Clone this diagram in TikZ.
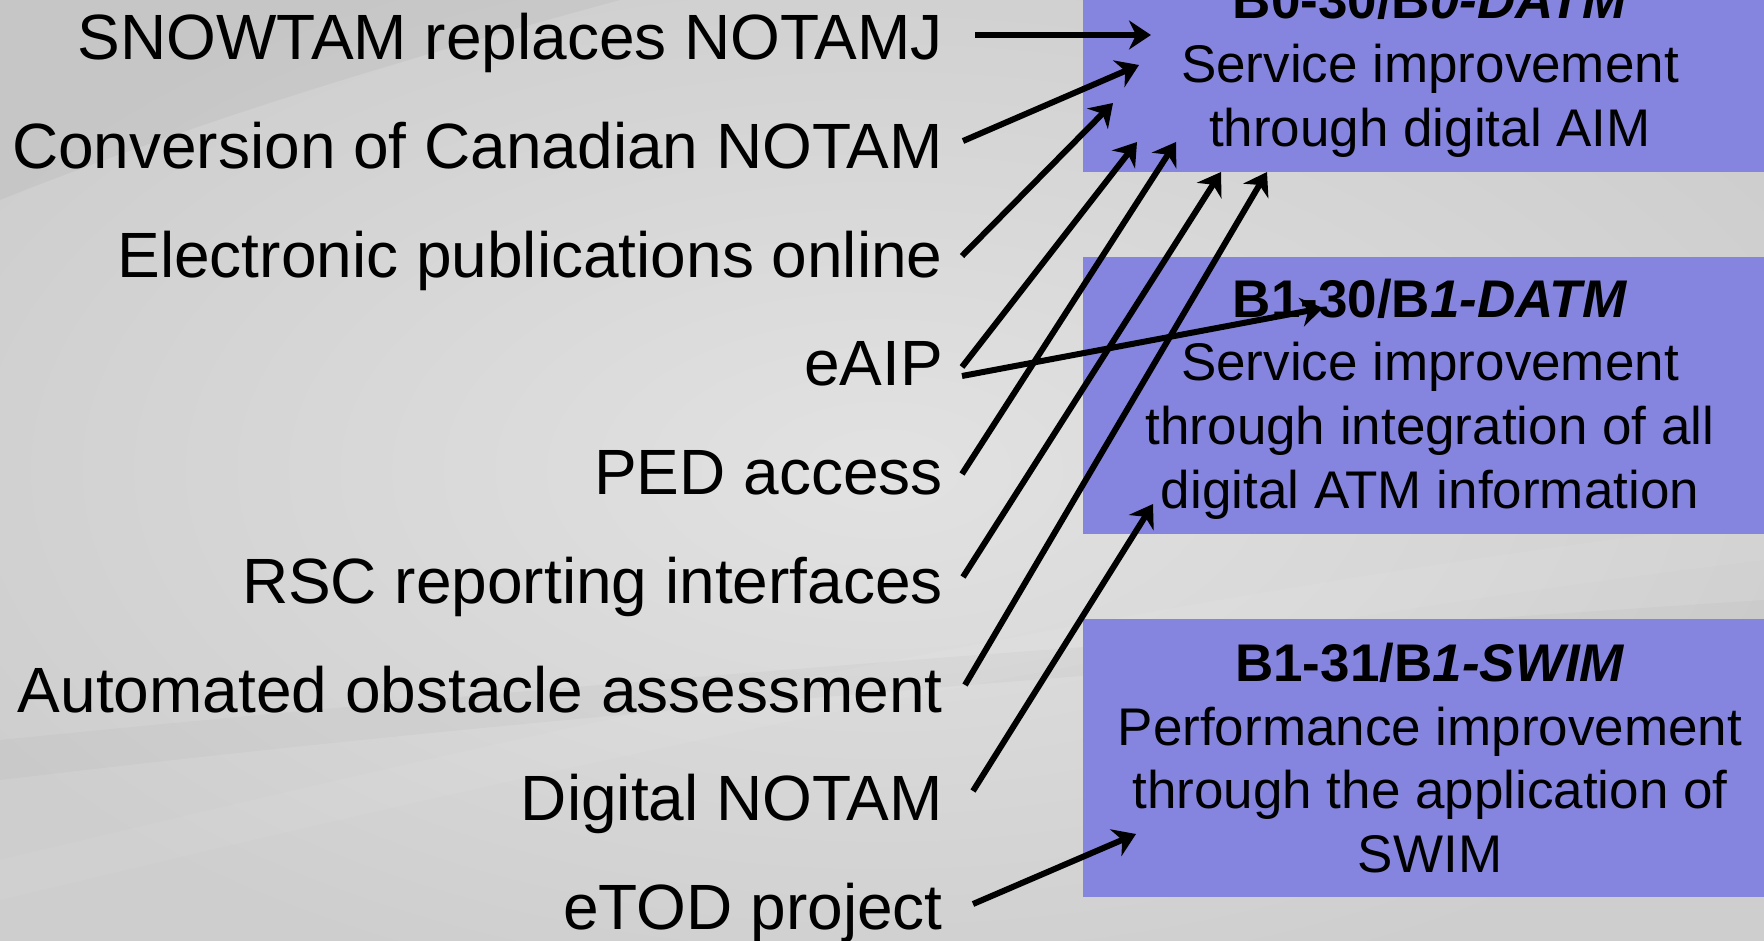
\documentclass[tikz,border=0pt]{standalone}
\usepackage{fontspec}
\setmainfont{Liberation Sans}
\usetikzlibrary{arrows.meta,calc}
\definecolor{boxblue}{RGB}{133,133,224}
\definecolor{bgA}{RGB}{226,226,226}
\definecolor{bgB}{RGB}{206,206,206}
\tikzset{
  lefttext/.style={anchor=base east, inner sep=0pt, font=\fontsize{64}{70}\selectfont},
  boxline/.style={anchor=base, inner sep=0pt, font=\fontsize{53}{60}\selectfont},
  boxtitle/.style={anchor=base, inner sep=0pt, font=\fontsize{53}{60}\selectfont\bfseries},
  goalbox/.style={fill=boxblue, draw=none, anchor=north west, inner sep=0pt, minimum width=700pt},
  arr/.style={line width=6pt, -{Stealth[length=22pt,width=29pt,inset=7pt]}},
}
\begin{document}
\begin{tikzpicture}[x=1pt,y=-1pt]
\useasboundingbox (0,0) rectangle (1764,940);
\clip (0,0) rectangle (1764,940);
% background
\shade[inner color=bgA, outer color=bgB] (-150,-80) rectangle (1914,1020);
\fill[black, opacity=0.035] (0,0) -- (620,0) .. controls (400,60) and (200,120) .. (0,200) -- cycle;
\fill[white, opacity=0.06] (0,860) .. controls (500,740) and (1100,600) .. (1764,520) -- (1764,560) .. controls (1100,640) and (500,780) .. (0,900) -- cycle;
\fill[black, opacity=0.025] (0,740) .. controls (500,690) and (1000,650) .. (1764,600) -- (1764,625) .. controls (1000,680) and (500,720) .. (0,780) -- cycle;

% goal boxes
\node[goalbox, minimum height=172pt] (b1) at (1083,0) {};
\node[goalbox, minimum height=277pt] (b2) at (1083,257) {};
\node[goalbox, minimum height=278pt] (b3) at (1083,619) {};

\node[boxtitle] (b1t) at (1430,18) {B0-30/B\textit{0-DATM}};
\node[boxline]  (b1a) at (1430,82) {Service improvement};
\node[boxline]  (b1b) at (1430,146) {through digital AIM};

\node[boxtitle] (b2t) at (1430,317) {B1-30/B\textit{1-DATM}};
\node[boxline]  (b2a) at (1430,380) {Service improvement};
\node[boxline]  (b2b) at (1430,444) {through integration of all};
\node[boxline]  (b2c) at (1430,508) {digital ATM information};

\node[boxtitle] (b3t) at (1430,681) {B1-31/B\textit{1-SWIM}};
\node[boxline]  (b3a) at (1430,745) {Performance improvement};
\node[boxline]  (b3b) at (1430,808) {through the application of};
\node[boxline]  (b3c) at (1430,872) {SWIM};

% left items
\node[lefttext] (snow) at (943,59)  {SNOWTAM replaces NOTAMJ};
\node[lefttext] (conv) at (943,168) {Conversion of Canadian NOTAM};
\node[lefttext] (epub) at (943,277) {Electronic publications online};
\node[lefttext] (eaip) at (943,385) {eAIP};
\node[lefttext] (ped)  at (943,494) {PED access};
\node[lefttext] (rsc)  at (943,603) {RSC reporting interfaces};
\node[lefttext] (auto) at (943,712) {Automated obstacle assessment};
\node[lefttext] (dnot) at (943,820) {Digital NOTAM};
\node[lefttext] (etod) at (943,929) {eTOD project};

% connector ends
\coordinate (s1) at (975,35);   \coordinate (e1) at (1151,35);
\coordinate (s2) at (963,141);  \coordinate (e2) at (1139,65);
\coordinate (s3) at (962,256);  \coordinate (e3) at (1113,103);
\coordinate (s4) at (962,367);  \coordinate (e4) at (1137,142);
\coordinate (s5) at (962,376);  \coordinate (e5) at (1323,308);
\coordinate (s6) at (962,474);  \coordinate (e6) at (1176,142);
\coordinate (s7) at (963,577);  \coordinate (e7) at (1221,172);
\coordinate (s8) at (965,685);  \coordinate (e8) at (1267,172);
\coordinate (s9) at (973,791);  \coordinate (e9) at (1153,504);
\coordinate (s10) at (973,904); \coordinate (e10) at (1136,834);

\draw[arr] (s1) -- (e1);
\draw[arr] (s2) -- (e2);
\draw[arr] (s3) -- (e3);
\draw[arr] (s4) -- (e4);
\draw[arr] (s5) -- (e5);
\draw[arr] (s6) -- (e6);
\draw[arr] (s7) -- (e7);
\draw[arr] (s8) -- (e8);
\draw[arr] (s9) -- (e9);
\draw[arr] (s10) -- (e10);
\end{tikzpicture}
\end{document}
